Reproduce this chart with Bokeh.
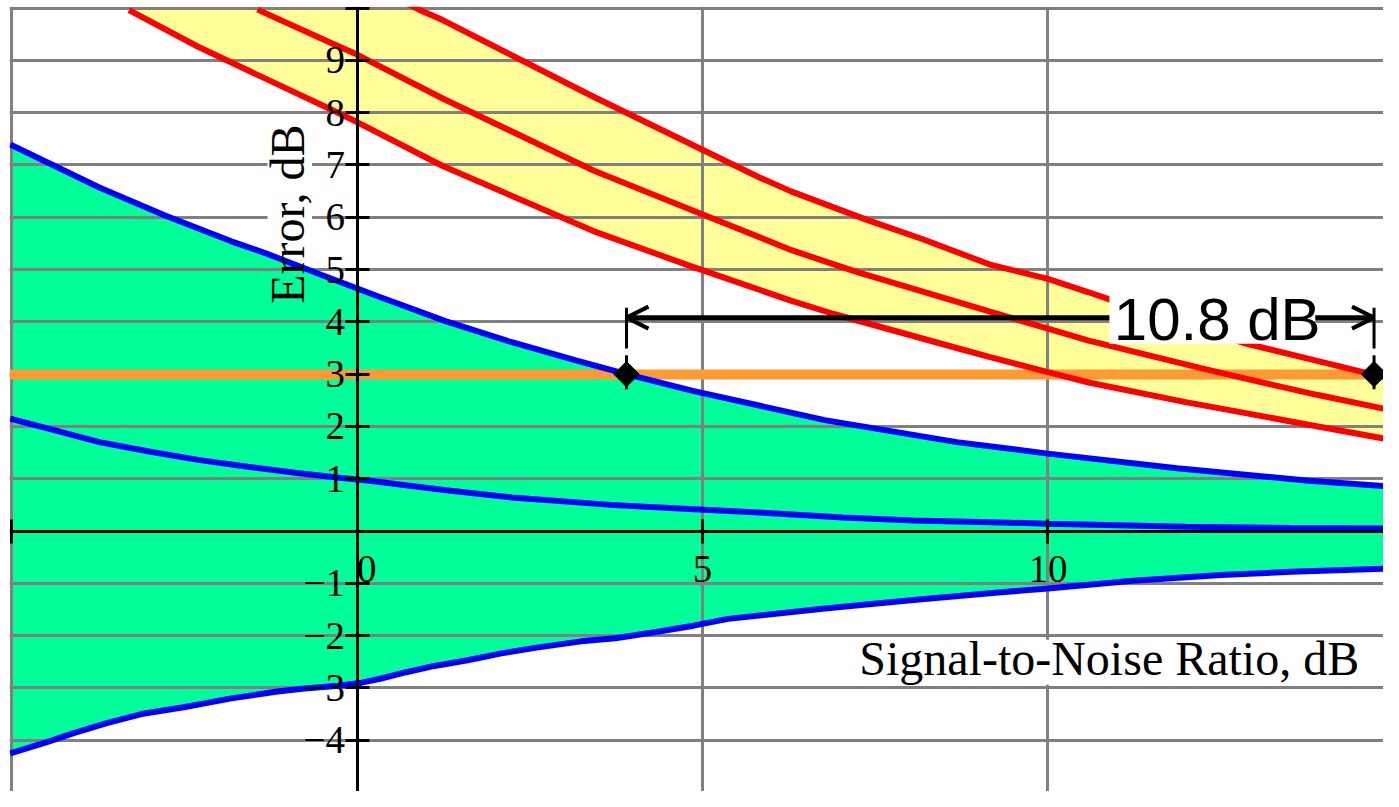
import math
from bokeh.plotting import figure
from bokeh.models import LinearAxis, FixedTicker, Grid, Range1d, Arrow, OpenHead, Label
from bokeh.core.properties import value
from bokeh.embed import file_html
from bokeh.resources import INLINE

# ---------------- data (x: SNR, dB ; y: error, dB) ----------------
upper_blue_snr = [-5.02, -3.73, -2.77, -1.82, -1.34, -0.52, 0.32, 1.29, 2.24, 3.18,
                  3.9, 4.86, 6.77, 8.68, 10.0, 11.87, 13.78, 14.86]
upper_blue_err = [7.39, 6.57, 6.03, 5.54, 5.32, 4.90, 4.48, 4.01, 3.61, 3.26,
                  3.0, 2.68, 2.12, 1.70, 1.48, 1.20, 0.96, 0.86]

mid_blue_snr = [-5.02, -4.44, -3.73, -3.01, -2.3, -1.58, -0.87, -0.25, 0.18, 1.29,
                2.24, 3.67, 4.81, 6.0, 7.03, 8.05, 9.15, 10.0, 12.0, 13.5, 14.86]
mid_blue_err = [2.15, 1.95, 1.70, 1.52, 1.36, 1.23, 1.11, 1.02, 0.96, 0.78,
                0.64, 0.50, 0.42, 0.34, 0.26, 0.20, 0.17, 0.14, 0.08, 0.06, 0.05]

lower_blue_snr = [-5.02, -4.5, -4.09, -3.61, -3.12, -2.51, -1.82, -1.15, -0.76, -0.27,
                  0.07, 0.35, 0.71, 1.12, 1.6, 2.09, 2.6, 3.24, 3.74, 4.37,
                  4.87, 5.37, 6.77, 8.05, 9.32, 10.0, 11.23, 12.51, 13.52, 14.86]
lower_blue_err = [-4.25, -4.04, -3.86, -3.67, -3.50, -3.37, -3.20, -3.07, -3.01, -2.96,
                  -2.90, -2.82, -2.70, -2.58, -2.47, -2.34, -2.23, -2.11, -2.05, -1.92,
                  -1.81, -1.68, -1.48, -1.32, -1.17, -1.10, -0.95, -0.84, -0.78, -0.72]

upper_red_snr = [-3.3, -1.3, 0.9, 1.24, 3.43, 5.0, 5.81, 6.29, 7.38, 8.19,
                 9.15, 10.0, 10.58, 10.89, 12.82, 13.91, 14.68, 14.86]
upper_red_err = [12.9, 11.45, 9.97, 9.77, 8.30, 7.29, 6.77, 6.49, 5.95, 5.58,
                 5.10, 4.82, 4.57, 4.43, 3.60, 3.25, 3.00, 2.95]

mid_red_snr = [-1.44, -0.39, 0.0, 1.24, 3.43, 4.86, 6.29, 7.24, 8.19, 9.15,
               10.0, 10.59, 12.2, 12.97, 13.91, 14.86]
mid_red_err = [9.97, 9.34, 9.11, 8.27, 6.89, 6.13, 5.37, 4.95, 4.58, 4.20,
               3.87, 3.64, 3.12, 2.88, 2.60, 2.34]

lower_red_snr = [-3.3, -2.3, -1.34, -0.39, 0.0, 1.24, 3.43, 4.86, 6.29, 6.9,
                 8.68, 9.15, 10.0, 10.59, 12.01, 12.51, 13.91, 14.86]
lower_red_err = [9.96, 9.26, 8.66, 8.07, 7.82, 6.98, 5.73, 5.05, 4.40, 4.15,
                 3.50, 3.33, 3.04, 2.84, 2.46, 2.34, 2.00, 1.77]

threshold_err = [3.0]                 # orange 3 dB line
cross_snr = [3.9, 14.72]              # where the upper blue / upper red curves cross 3 dB
cross_err = [3.0, 3.0]
gap_label = "10.8 dB"

x_ticks = [-5, 0, 5, 10]
x_tick_labels = ["", "\u00a0\u00a00", "5", "10"]
y_ticks = [-4, -3, -2, -1, 0, 1, 2, 3, 4, 5, 6, 7, 8, 9, 10]
y_tick_labels = ["\u22124", "\u22123", "\u22122", "\u22121", "", "1", "2", "3", "4",
                 "5", "6", "7", "8", "9", ""]

x_title = "Signal-to-Noise Ratio, dB"
y_title = "Error, dB"

# ---------------- figure ----------------
p = figure(width=1383, height=791,
           x_range=Range1d(-5.03, 14.857), y_range=Range1d(-4.981, 10.03),
           output_backend="svg", toolbar_location=None,
           x_axis_location=None, y_axis_location=None,
           min_border_left=9, min_border_top=6, min_border_right=0, min_border_bottom=0,
           outline_line_color=None,
           background_fill_color="white", border_fill_color="white")

# grids (drawn above the filled bands, as in the original)
p.center = [r for r in p.center if not isinstance(r, Grid)]
GRID = "#808080"
p.add_layout(Grid(dimension=0, ticker=FixedTicker(ticks=x_ticks), grid_line_color=GRID,
                  grid_line_width=3, level="underlay"), "center")
p.add_layout(Grid(dimension=1, ticker=FixedTicker(ticks=y_ticks), grid_line_color=GRID,
                  grid_line_width=3, level="underlay"), "center")

# filled bands
p.patch(upper_blue_snr + lower_blue_snr[::-1], upper_blue_err + lower_blue_err[::-1],
        fill_color="#00FF99", line_color=None, level="image")
p.patch(upper_red_snr + lower_red_snr[::-1], upper_red_err + lower_red_err[::-1],
        fill_color="#FFFF99", line_color=None, level="image")

# white boxes behind the axis titles
p.quad(left=-1.295, right=-0.651, bottom=5.42, top=7.88, fill_color="white", line_color=None)
p.quad(left=7.26, right=14.51, bottom=-2.94, top=-2.08, fill_color="white", line_color=None)

# 3 dB line
p.hspan(y=threshold_err, line_color="#FF9933", line_width=10)

# curves
for xs, ys, c in [(upper_blue_snr, upper_blue_err, "#0000FF"),
                  (mid_blue_snr, mid_blue_err, "#0000FF"),
                  (lower_blue_snr, lower_blue_err, "#0000FF"),
                  (upper_red_snr, upper_red_err, "#FF0000"),
                  (mid_red_snr, mid_red_err, "#FF0000"),
                  (lower_red_snr, lower_red_err, "#FF0000")]:
    p.line(xs, ys, line_color=c, line_width=6)

# white strip above the y = 10 frame line
p.quad(left=-6, right=16, bottom=10.02, top=11, fill_color="white", line_color=None,
       level="glyph")

# dimension marks
dim_err = 4.08
p.segment(x0=cross_snr, y0=[2.71, 2.71], x1=cross_snr, y1=[3.36, 3.36],
          line_color="black", line_width=3)
p.segment(x0=cross_snr, y0=[3.49, 3.49], x1=cross_snr, y1=[4.27, 4.27],
          line_color="black", line_width=3)
p.scatter(cross_snr, cross_err, marker="square", angle=math.pi / 4, size=18,
          fill_color="black", line_color="black")
p.add_layout(Arrow(x_start=cross_snr[0], y_start=dim_err, x_end=cross_snr[1], y_end=dim_err,
                   line_color="black", line_width=5,
                   start=OpenHead(size=22, line_width=4, line_color="black"),
                   end=OpenHead(size=22, line_width=4, line_color="black")))
p.quad(left=10.89, right=13.87, bottom=3.58, top=4.61, fill_color="white",
       line_color=None, level="overlay")
p.text(x=[12.45], y=[4.04], text=[gap_label], text_font=value("Liberation Sans"),
       text_font_size="60px", text_align="center", text_baseline="middle",
       text_color="black", level="overlay")

# axis titles
p.add_layout(Label(x=-1.0, y=6.06, text=y_title, angle=math.pi / 2,
                   text_font="Liberation Serif", text_font_size="48px",
                   text_align="center", text_baseline="middle", text_color="black"))
p.add_layout(Label(x=10.887, y=-2.444, text=x_title,
                   text_font="Liberation Serif", text_font_size="48px",
                   text_align="center", text_baseline="middle", text_color="black"))

# axes crossing at the origin
def style_axis(ax):
    ax.axis_line_color = "black"
    ax.axis_line_width = 3
    ax.major_tick_line_color = "black"
    ax.major_tick_line_width = 3
    ax.major_tick_in = 12
    ax.major_tick_out = 12
    ax.minor_tick_in = 0
    ax.minor_tick_out = 0
    ax.major_label_text_font = "Liberation Serif"
    ax.major_label_text_font_size = "39px"
    ax.major_label_text_color = "black"

xaxis = LinearAxis(fixed_location=0, ticker=FixedTicker(ticks=x_ticks),
                   major_label_overrides=dict(zip(x_ticks, x_tick_labels)),
                   major_label_standoff=4, bounds=(-5, 20))
style_axis(xaxis)
p.add_layout(xaxis, "below")

yaxis = LinearAxis(fixed_location=0, ticker=FixedTicker(ticks=y_ticks),
                   major_label_overrides=dict(zip(y_ticks, y_tick_labels)),
                   major_label_standoff=0, bounds=(-6, 10))
style_axis(yaxis)
p.add_layout(yaxis, "left")

open("out.html", "w").write(file_html(p, INLINE))
